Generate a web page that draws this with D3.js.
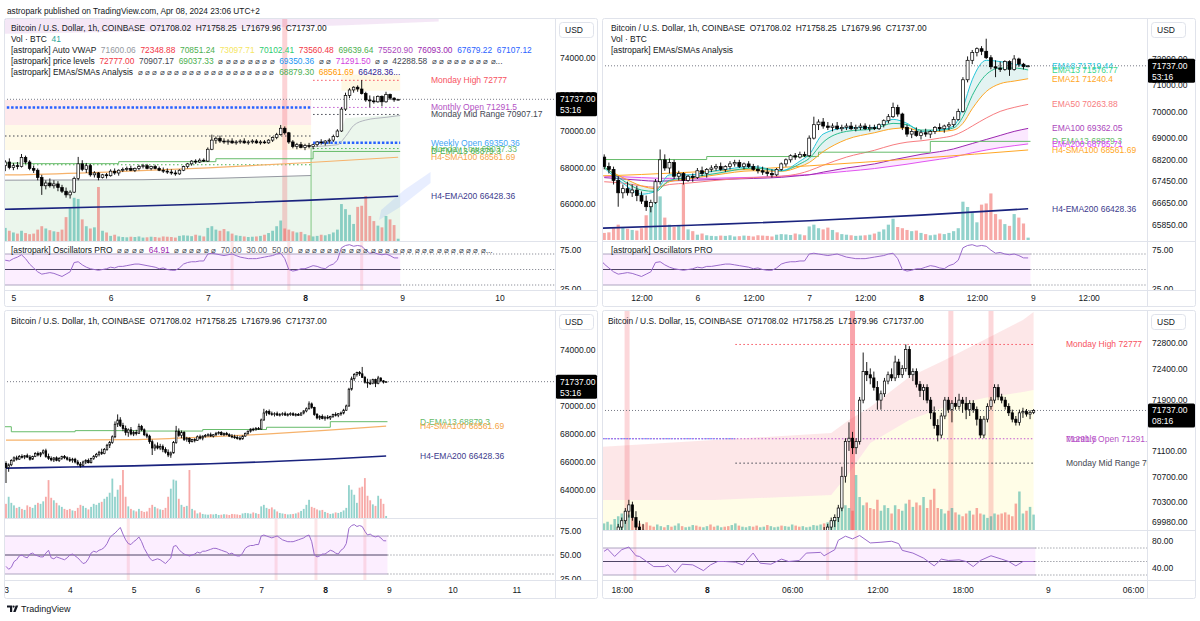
<!DOCTYPE html>
<html>
<head>
<meta charset="utf-8">
<script src="https://cdn.jsdelivr.net/npm/d3@7/dist/d3.min.js"></script>
<style>
html,body{margin:0;padding:0;background:#ffffff;overflow:hidden;}
svg{display:block;font-family:"Liberation Sans",Arial,Helvetica,sans-serif;}
text{white-space:pre;}
</style>
</head>
<body>
<svg id="chart" width="1200" height="621" xml:space="preserve"></svg>
<script>
// ================= DATA =================
// hourly BTCUSD bars, idx 0 = Apr 3 00:00 ... idx 143 = Apr 8 23:00  [open, high, low, close]
const hourlyOHLC = [
[65900,66050,64500,65600],[65600,65900,65300,65800],[65800,66200,65700,66100],[66100,66400,66000,66300],
[66300,66450,66100,66200],[66200,66500,66150,66400],[66400,66550,66250,66350],[66350,66500,66200,66450],
[66450,66600,66300,66350],[66350,66500,66100,66200],[66200,66450,66150,66400],[66400,66700,66350,66600],
[66600,66750,66400,66500],[66500,66700,66350,66650],[66650,66900,66550,66800],[66800,66950,66300,66400],
[66400,66600,66150,66250],[66250,66400,66050,66150],[66150,66350,66000,66300],[66300,66400,66050,66100],
[66100,66350,66000,66250],[66250,66450,66150,66400],[66400,66500,66200,66300],[66300,66400,66100,66200],
[66200,66350,66000,66100],[66100,66300,65950,66200],[66200,66300,65900,66000],[66000,66150,65750,65850],
[65850,66000,65600,65750],[65750,66100,65700,66000],[66000,66200,65850,66100],[66100,66250,65900,65950],
[65950,66300,65900,66250],[66250,66500,66150,66400],[66400,66650,66300,66550],[66550,66800,66400,66700],
[66700,66950,66500,66600],[66600,67000,66550,66900],[66900,67300,66800,67200],[67200,67500,67000,67400],
[67400,67900,67300,67800],[67800,68900,67700,68700],[68700,69400,68500,69000],[69000,69200,68500,68600],
[68600,68800,68200,68400],[68400,68600,67900,68100],[68100,68400,67800,68300],[68300,68500,67900,68000],
[68000,68250,67850,68100],[68100,68300,67900,68050],[68050,68740,68000,68550],[68550,68650,68200,68300],
[68300,68400,67850,67950],[67950,68100,67700,67850],[67850,67950,67300,67450],[67450,67600,66500,67000],
[67000,67300,66800,67150],[67150,67400,66900,67000],[67000,67300,66850,67100],[67100,67250,66700,66900],
[66900,67050,66600,66700],[66700,66900,66350,66500],[66500,66750,66300,66650],[66650,67500,66600,67400],
[67400,68580,67300,68200],[68200,68400,67800,67900],[67900,68250,67700,68100],[68100,68200,67500,67600],
[67600,67800,67450,67700],[67700,67750,67300,67450],[67450,67650,67400,67600],[67600,67700,67400,67550],
[67550,67900,67500,67800],[67800,67950,67600,67700],[67700,67900,67550,67850],[67850,68000,67750,67900],
[67900,68050,67800,67950],[67950,68100,67800,67850],[67850,68000,67750,67950],[67950,68150,67850,68050],
[68050,68200,67950,68100],[68100,68200,67900,67950],[67950,68100,67850,68050],[68050,68150,67900,67950],
[67950,68050,67800,67850],[67850,68000,67700,67800],[67800,67950,67650,67750],[67750,67900,67600,67700],
[67700,67850,67550,67650],[67650,67900,67600,67850],[67850,68100,67800,68050],[68050,68250,67950,68200],
[68200,68400,68100,68350],[68350,68450,68200,68300],[68300,68500,68250,68400],[68400,68500,68300,68350],
[68350,69100,68300,69000],[69000,69800,68950,69500],[69500,69700,69300,69600],[69600,69750,69350,69450],
[69450,69600,69300,69400],[69400,69550,69250,69450],[69450,69600,69300,69350],[69350,69500,69250,69400],
[69400,69550,69300,69450],[69450,69600,69300,69350],[69350,69500,69250,69400],[69400,69550,69300,69450],
[69450,69550,69300,69350],[69350,69500,69250,69400],[69400,69500,69300,69350],[69350,69550,69300,69500],
[69500,69700,69400,69650],[69650,69900,69550,69800],[69800,70330,69750,70150],[70150,70250,69800,69900],
[69900,69950,69300,69400],[69400,69500,69050,69150],[69150,69350,69000,69250],[69250,69400,69050,69100],
[69100,69300,68950,69200],[69200,69350,69050,69150],[69150,69300,69000,69250],[69250,69450,69150,69400],
[69400,69550,69250,69350],[69350,69500,69200,69450],[69450,69600,69300,69500],[69500,69800,69400,69700],
[69700,70100,69650,70000],[70000,71300,69950,71200],[71200,72100,71100,71950],[71950,72350,71800,72250],
[72250,72450,72100,72400],[72400,72500,72150,72300],[72300,72790,72000,72050],[72050,72150,71600,71700],
[71700,71950,71300,71650],[71650,71900,71500,71600],[71600,71950,71550,71900],[71900,71950,71350,71600],
[71600,72150,71550,72000],[72000,72050,71700,71800],[71800,71850,71600,71708],[71708.02,71758.25,71679.96,71737]
];
const hourlyVolume = [
280,420,300,250,200,220,180,160,250,220,200,260,300,280,330,420,750,400,350,300,250,220,180,160,
180,150,140,200,260,240,200,170,220,280,260,300,320,380,420,500,780,420,560,650,950,420,230,180,
150,130,180,140,120,130,200,260,220,190,170,160,200,420,580,760,740,380,260,220,240,950,180,150,
90,110,80,70,65,75,70,80,60,65,75,70,60,80,75,70,60,90,100,95,85,110,95,80,
230,260,200,180,210,170,130,100,90,80,70,75,80,90,110,140,180,260,360,220,200,170,150,160,
120,100,80,90,110,100,120,150,200,650,560,460,300,600,620,790,440,350,270,240,440,380,280,40
];
const hourlyRSI = [
38,35,37,43,45,49,50,48,47,51,52,50,49,48,48,52,55,47,46,48,47,46,45,47,
50,51,49,47,44,41,42,46,52,54,53,55,56,58,62,68,71,73,76,79,72,66,62,61,
64,66,69,64,57,52,47,44,45,46,45,43,41,44,47,59,60,56,53,51,50,49,50,51,
53,52,54,54,55,56,57,57,56,55,54,53,51,52,50,49,49,52,57,59,60,60,61,61,
70,71,70,69,68,69,70,68,66,65,64,64,64,65,66,67,68,70,71,64,50,48,49,51,
51,53,55,54,52,51,55,57,62,78,81,82,80,81,80,75,71,72,70,69,70,68,65,64.91
];
// indicator lines [hour idx, price]
const h4Ema200 = [[0,65560],[24,65640],[48,65720],[72,65850],[96,66000],[120,66200],[143,66428.36]];
const h4Sma100 = [[0,67560],[24,67570],[48,67600],[72,67760],[96,67980],[120,68260],[143,68561.69]];
const dEma13 = [[-24,68520],[2,68160],[26,68240],[50,68210],[74,68320],[98,68480],[122,68879.3],[143.5,68879.3]];
const emaIdx = [52,56,60,63,66,70,76,84,90,94,96,99,104,110,114,117,120,124,127,129,131,134,137,140,143];
const ema8   = [67900,67350,66950,67050,67650,67650,67800,67950,67800,68150,68400,69150,69380,69400,69700,69550,69250,69300,69450,70150,71200,71950,71900,71800,71719.44];
const ema13  = [67950,67450,67100,67050,67450,67550,67700,67900,67800,68050,68250,68850,69250,69350,69550,69500,69300,69300,69380,69800,70600,71400,71650,71650,71576.77];
const ema21  = [67900,67550,67250,67150,67400,67500,67650,67800,67780,67950,68100,68500,68950,69200,69350,69380,69250,69250,69300,69550,70100,70750,71050,71150,71240.4];
const ema50  = [67400,67350,67250,67200,67300,67350,67450,67550,67600,67700,67800,68000,68300,68550,68750,68850,68900,69000,69100,69250,69450,69750,70000,70150,70263.88];
const ema100 = [67550,67500,67450,67420,67430,67450,67480,67520,67560,67620,67650,67750,67900,68050,68200,68300,68400,68500,68600,68700,68800,68950,69100,69250,69362.05];
const ema200 = [67600,67580,67550,67530,67520,67520,67530,67560,67600,67640,67660,67700,67780,67880,67970,68040,68120,68220,68300,68380,68460,68560,68650,68720,68785.71];
// top-left VWAP / level study values
const tlPrevWeekSpan = [46,121.5];
const tlCurWeekSpan = [122,143.5];
const tlPrevBands = [71700,70330,68960];
const tlPrevVwap = [[40,67300],[80,67330],[100,67420],[121.5,67560]];
const tlNewVwap = [[122,69150],[128,69250],[130,69700],[132,70300],[135,70600],[140,70750],[143.5,70850]];
const tlNewMintTop = [[121.5,69100],[128,69500],[130,70700],[143.5,70900]];
const tlTopYellow = [[129,73100],[143.5,73100],[129,72200]];
const tlLavenderEdge = [[40,75300],[90,75500],[130,75800],[153,76000]];
const tlSwooshLower = [[138.3,65123],[143.5,65836],[151,67150]];
const tlSwooshUpper = [[138.8,65671],[144.5,66767],[151,67753]];
const tlPrevWeekLevels = [71291.5,69726,68150];
const tlCurWeekLevels = [72777,71291.5,70907.17,69350.36,69037.33];
const tlHighlightIdx = [115];
const tlOscPinkIdx = [102,116,134];
const blOscPinkIdx = [46,101.6,116.6,135];
const tlLabelNames = ["Monday High 72777","Monthly Open 71291.5","Monday Mid Range 70907.17","Weekly Open 69350.36","Monday Low 69037.33","D-EMA13 68879.3","H4-SMA100 68561.69","H4-EMA200 66428.36"];
const tlLabelValues = [72777,71291.5,70907.17,69350.36,69037.33,68879.3,68561.69,66428.36];
const trLabelNames = ["EMA8 71719.44","EMA13 71576.77","EMA21 71240.4","EMA50 70263.88","EMA100 69362.05","D-EMA13 68879.3","EMA200 68785.71","H4-SMA100 68561.69","H4-EMA200 66428.36"];
const trLabelValues = [71719.44,71576.77,71240.4,70263.88,69362.05,68879.3,68785.71,68561.69,66428.36];
const blLabelNames = ["D-EMA13 68879.3","H4-SMA100 68561.69","H4-EMA200 66428.36"];
const blLabelValues = [68879.3,68561.69,66428.36];
// 15-minute bars, k 0 = Apr 7 16:45 ... k 121 = Apr 8 23:00
const brOHLC = [
[69600,69700,69550,69650],[69650,69750,69600,69700],[69700,69800,69650,69750],[69750,69850,69700,69800],
[69800,69950,69750,69900],[69900,70050,69850,70000],[70000,70200,69950,70150],[70150,70330,70050,70250],
[70250,70300,70000,70050],[70050,70150,69850,69900],[69900,70000,69800,69850],[69850,69950,69700,69750],
[69750,69800,69500,69550],[69550,69600,69350,69450],[69450,69500,69300,69350],[69350,69450,69250,69400],
[69400,69450,69300,69400],[69400,69450,69050,69150],[69150,69250,69050,69200],[69200,69300,69100,69150],
[69150,69250,69100,69150],[69150,69350,69100,69300],[69300,69350,69150,69200],[69200,69300,69100,69250],
[69250,69300,69150,69250],[69250,69400,69200,69300],[69300,69350,69100,69150],[69150,69200,69050,69100],
[69100,69200,69050,69100],[69100,69300,69000,69250],[69250,69300,69100,69150],[69150,69250,68950,69050],
[69050,69250,69000,69200],[69200,69350,69100,69300],[69300,69350,69150,69200],[69200,69250,69050,69100],
[69100,69200,69050,69150],[69150,69300,69100,69250],[69250,69300,69150,69200],[69200,69300,69150,69250],
[69250,69300,69200,69250],[69250,69450,69200,69400],[69400,69450,69300,69350],[69350,69400,69250,69300],
[69300,69450,69250,69400],[69400,69550,69350,69450],[69450,69500,69300,69350],[69350,69400,69250,69350],
[69350,69400,69300,69350],[69350,69500,69300,69450],[69450,69500,69350,69400],[69400,69450,69300,69400],
[69400,69500,69350,69450],[69450,69600,69400,69550],[69550,69600,69450,69500],[69500,69550,69400,69450],
[69450,69550,69400,69500],[69500,69650,69450,69600],[69600,69700,69550,69650],[69650,69800,69600,69700],
[69700,69750,69600,69700],[69700,69850,69650,69800],[69800,69900,69700,69750],[69750,69950,69700,69900],
[69900,70050,69850,70000],[70000,70100,69900,70050],[70050,70250,69980,70200],[70200,70850,70150,70700],
[70700,71300,70600,71250],[71250,71550,71100,71300],[71300,71400,71050,71150],[71150,71300,71050,71250],
[71250,71950,71200,71900],[71900,72650,71850,72350],[72350,72500,72200,72300],[72300,72400,72150,72250],
[72250,72350,72050,72100],[72100,72200,71750,71900],[71900,72050,71750,72000],[72000,72250,71950,72200],
[72200,72350,72150,72300],[72300,72400,72200,72250],[72250,72600,72200,72500],[72500,72550,72250,72300],
[72300,72450,72250,72400],[72400,72777,72350,72700],[72700,72750,72250,72300],[72300,72400,72200,72350],
[72350,72400,72100,72150],[72150,72200,71950,72050],[72050,72150,71900,72100],[72100,72150,71850,71900],
[71900,71950,71600,71700],[71700,71800,71450,71500],[71500,71600,71250,71350],[71350,71700,71300,71650],
[71650,71950,71600,71900],[71900,71950,71700,71750],[71750,71900,71550,71850],[71850,71950,71750,71800],
[71800,72000,71750,71900],[71900,71950,71700,71850],[71850,71950,71600,71750],[71750,71900,71650,71850],
[71850,71900,71700,71750],[71750,71800,71500,71600],[71600,71650,71300,71350],[71350,71650,71300,71600],
[71600,71850,71550,71800],[71800,71950,71750,71900],[71900,72150,71850,72100],[72100,72150,71900,71950],
[71950,72000,71850,71900],[71900,71950,71750,71800],[71800,71850,71650,71700],[71700,71750,71550,71600],
[71600,71650,71500,71550],[71550,71750,71500,71700],[71700,71780,71620,71720],[71720,71760,71640,71680],
[71680,71740,71600,71708],[71708.02,71758.25,71679.96,71737]
];
const brVolume = [
12,15,10,20,25,30,35,28,22,18,12,10,14,
8,6,10,7,5,9,6,8,12,7,5,6,9,8,6,5,7,10,6,8,5,6,7,9,12,8,6,5,7,6,8,5,6,9,7,5,6,8,7,6,10,8,6,7,5,6,9,8,10,12,14,18,
20,30,48,45,40,35,100,60,45,50,40,38,55,35,45,40,30,45,38,35,48,55,42,50,45,60,40,55,75,40,38,30,35,40,32,28,25,30,35,28,40,30,28,22,25,30,28,30,32,28,25,48,70,30,35,42,28
];
const brRsiIdx = [0,1,3,5,7,9,10,12,14,17,18,20,22,25,28,30,32,34,37,39,42,44,47,50,52,55,57,61,62,65,66,68,70,72,75,78,81,83,84,87,90,93,95,97,100,102,104,106,109,112,114,116,118,121];
const brRsiVal = [65,68.5,57.5,67.5,71.5,58.5,57.5,50,42.5,42.5,45,33.5,46,45,36.5,45,50,50,49,45,62.5,47.5,46,53.5,50,51.5,62.5,63.5,58.5,67.5,81.5,87.5,83.5,88.5,77.5,78.5,80,76.5,66.5,62.5,55,43.5,53.5,51.5,52.5,50,42.5,51.5,58.5,53.5,50,43.5,50,50];
const brBandTop = [[-2,71160],[31,71272],[64,71382],[69,71587],[75,71792],[86,72264],[96,72532],[107,72847],[118,73162],[121,73288]];
const brBandMid = [[-2,70327],[31,70327],[64,70406],[69,70752],[75,71225],[86,71587],[96,71792],[107,71934],[118,72028],[121,72060]];
const brBandFloor = 69000;
const brMondayStartK = 37;
const brLevels = [72777,71291.5,70907.17];
const brHighlightK = [6.5,70,97.7,109];
const brOscPinkK = [8.7,63,71];
const brLabelNames = ["Monday High 72777","71291.5","Monthly Open 71291.5","Monday Mid Range 70907.17"];
const brLabelValues = [72777,71291.5,71291.5,70907.17];
// axis ticks
const tlPriceTicks = [74000,72000,70000,68000,66000];
const trPriceTicks = [72000,71000,70000,69000,68200,67450,66650,65850];
const blPriceTicks = [74000,72000,70000,68000,66000,64000];
const brPriceTicks = [72800,72400,71900,71100,70700,70300,69980];
const tlOscTicks = [75,25], blOscTicks = [75,50,25], brOscTicks = [80,40];
const tlTimeTicks = [48,72,96,120,144,168], tlTimeLabels = ["5","6","7","8","9","10"];
const trTimeTicks = [60,72,84,96,108,120,132,144,156], trTimeLabels = ["12:00","6","12:00","7","12:00","8","12:00","9","12:00"];
const blTimeTicks = [0,24,48,72,96,120,144,168,192], blTimeLabels = ["3","4","5","6","7","8","9","10","11"];
const brTimeTicks = [5,29,53,77,101,125,149], brTimeLabels = ["18:00","8","06:00","12:00","18:00","9","06:00"];
const lastPrice = 71737.00;

// ================= DRAWING =================
const TXT = "#131722";
const LEG = 8.4;
const svg = d3.select("#chart");
const defs = svg.append("defs");
let clipCount = 0;
function clipG(x, y, w, h) {
  const id = "cp" + (clipCount++);
  defs.append("clipPath").attr("id", id).append("rect").attr("x", x).attr("y", y).attr("width", w).attr("height", h);
  return svg.append("g").attr("clip-path", "url(#" + id + ")");
}
function linePath(g, pts, x, y, color, w, dash, curve) {
  const gen = d3.line().x(d => x(d[0])).y(d => y(d[1])).curve(curve || d3.curveLinear);
  return g.append("path").attr("d", gen(pts)).attr("fill", "none").attr("stroke", color)
    .attr("stroke-width", w).attr("stroke-dasharray", dash || null);
}
function polyFill(g, topPts, botPts, x, y, color) {
  const gen = d3.line().x(d => x(d[0])).y(d => y(d[1]));
  g.append("path").attr("d", gen(topPts.concat(botPts.slice().reverse())) + "Z").attr("fill", color);
}
function areaBetween(g, xs, top, bot, x, y, color) {
  const a = d3.area().x((d, i) => x(xs[i])).y0((d, i) => y(bot[i])).y1((d, i) => y(top[i])).curve(d3.curveMonotoneX);
  g.append("path").attr("d", a(xs)).attr("fill", color);
}
function candles(g, rows, x, y, bw) {
  const items = rows.map((r, i) => ({i, o: r[0], h: r[1], l: r[2], c: r[3]}));
  const cg = g.append("g");
  cg.selectAll("line").data(items).join("line")
    .attr("x1", d => x(d.i)).attr("x2", d => x(d.i))
    .attr("y1", d => y(d.h)).attr("y2", d => y(d.l))
    .attr("stroke", "#000").attr("stroke-width", 0.9);
  cg.selectAll("rect").data(items).join("rect")
    .attr("x", d => x(d.i) - bw / 2).attr("width", bw)
    .attr("y", d => y(Math.max(d.o, d.c)))
    .attr("height", d => Math.max(0.9, y(Math.min(d.o, d.c)) - y(Math.max(d.o, d.c))))
    .attr("fill", d => d.c >= d.o ? "#ffffff" : "#000000")
    .attr("stroke", "#000").attr("stroke-width", 0.7);
}
function volumes(g, rows, vols, x, yv, bw) {
  g.append("g").selectAll("rect").data(vols.map((v, i) => ({i, v, up: rows[i][3] >= rows[i][0]}))).join("rect")
    .attr("x", d => x(d.i) - bw / 2).attr("width", bw)
    .attr("y", d => yv(d.v)).attr("height", d => yv(0) - yv(d.v))
    .attr("fill", d => d.up ? "rgba(38,166,154,0.5)" : "rgba(239,83,80,0.5)");
}
function frame(P) {
  const g = svg.append("g");
  g.append("rect").attr("x", P.left + 0.5).attr("y", P.top + 0.5).attr("width", P.right - P.left - 1)
    .attr("height", P.bottom - P.top - 1).attr("fill", "#fff").attr("stroke", "#e0e3eb").attr("rx", 2);
  g.append("line").attr("x1", P.axisX + 0.5).attr("x2", P.axisX + 0.5).attr("y1", P.top).attr("y2", P.bottom).attr("stroke", "#e0e3eb");
  g.append("line").attr("x1", P.left).attr("x2", P.right).attr("y1", P.mainBottom + 0.5).attr("y2", P.mainBottom + 0.5).attr("stroke", "#e0e3eb");
  g.append("line").attr("x1", P.left).attr("x2", P.right).attr("y1", P.oscBottom + 0.5).attr("y2", P.oscBottom + 0.5).attr("stroke", "#e0e3eb");
}
function mainClip(P) { return clipG(P.left + 1, P.top + 1, P.axisX - P.left - 1, P.mainBottom - P.top - 1); }
function priceLine(g, P, yPx) {
  g.append("line").attr("x1", P.left).attr("x2", P.axisX).attr("y1", yPx).attr("y2", yPx)
    .attr("stroke", "#787b86").attr("stroke-width", 1).attr("stroke-dasharray", "1,2");
}
function rightLabels(g, names, values, colors, xPx, y) {
  names.forEach((n, i) => g.append("text").attr("x", xPx).attr("y", y(values[i])).attr("dy", "0.35em")
    .attr("font-size", 8.5).attr("fill", colors[i]).text(n));
}
function legend(g, xPx, yPx, parts, size) {
  const t = g.append("text").attr("x", xPx).attr("y", yPx).attr("dy", "0.35em").attr("font-size", size || LEG).attr("fill", TXT);
  parts.forEach(p => t.append("tspan").attr("fill", p[1] || TXT).text(p[0]));
}
function priceAxis(P, y, ticks, y0, y1) {
  const g = clipG(P.axisX + 1, y0, P.right - P.axisX - 2, y1 - y0);
  const ax = g.append("g").attr("transform", "translate(" + P.axisX + ",0)")
    .call(d3.axisRight(y).tickValues(ticks).tickFormat(d3.format(".2f")).tickSize(0).tickPadding(5));
  ax.select(".domain").remove();
  ax.attr("font-family", null).attr("font-size", 8.5);
  ax.selectAll("text").attr("fill", TXT);
}
function priceBox(P, yPx, timer) {
  const g = svg.append("g");
  g.append("rect").attr("x", P.axisX + 1).attr("y", yPx - 7).attr("width", P.right - P.axisX - 2).attr("height", 24).attr("fill", "#000").attr("rx", 1.5);
  g.append("text").attr("x", P.axisX + 5).attr("y", yPx).attr("dy", "0.35em").attr("fill", "#fff").attr("font-size", 8.5).text(d3.format(".2f")(lastPrice));
  g.append("text").attr("x", P.axisX + 5).attr("y", yPx + 11).attr("dy", "0.35em").attr("fill", "#fff").attr("font-size", 8.5).text(timer);
}
function usdBox(P) {
  svg.append("rect").attr("x", P.axisX + 4.5).attr("y", P.top + 4.5).attr("width", 34).attr("height", 15).attr("rx", 3).attr("fill", "#fff").attr("stroke", "#e0e3eb");
  svg.append("text").attr("x", P.axisX + 10).attr("y", P.top + 12).attr("dy", "0.35em").attr("font-size", 8.5).attr("fill", TXT).text("USD");
}
function timeAxis(P, x, ticks, labels, yText) {
  const g = clipG(P.left + 1, P.oscBottom + 1, P.axisX - P.left - 1, P.bottom - P.oscBottom - 2);
  const ax = g.append("g").attr("transform", "translate(0," + yText + ")")
    .call(d3.axisBottom(x).tickValues(ticks).tickFormat((d, i) => labels[i]).tickSize(0).tickPadding(0));
  ax.select(".domain").remove();
  ax.attr("font-family", null).attr("font-size", 8.5);
  ax.selectAll("text").attr("fill", TXT).attr("dy", "0.35em").attr("font-weight", (d, i) => labels[i] === "8" ? "bold" : null);
}
function oscPane(P, x, o, pts, lastX, pinkXs) {
  const g = clipG(P.left + 1, P.mainBottom + 1, P.axisX - P.left - 1, P.oscBottom - P.mainBottom - 1);
  const xl = P.left + 1;
  g.append("rect").attr("x", xl).attr("y", o(70)).attr("width", lastX - xl).attr("height", o(30) - o(70)).attr("fill", "rgba(224,64,251,0.09)");
  pinkXs.forEach(px => g.append("rect").attr("x", px - 1.5).attr("y", P.mainBottom).attr("width", 3)
    .attr("height", P.oscBottom - P.mainBottom).attr("fill", "rgba(242,54,69,0.13)"));
  [70, 30].forEach(v => {
    g.append("line").attr("x1", xl).attr("x2", lastX).attr("y1", o(v)).attr("y2", o(v)).attr("stroke", "#9a8fb0").attr("stroke-width", 0.8);
    g.append("line").attr("x1", lastX).attr("x2", P.axisX).attr("y1", o(v)).attr("y2", o(v)).attr("stroke", "#787b86").attr("stroke-dasharray", "1,2");
  });
  g.append("line").attr("x1", xl).attr("x2", lastX).attr("y1", o(50)).attr("y2", o(50)).attr("stroke", "#4f4566").attr("stroke-width", 1);
  g.append("line").attr("x1", lastX).attr("x2", P.axisX).attr("y1", o(50)).attr("y2", o(50)).attr("stroke", "#787b86").attr("stroke-dasharray", "1,2");
  linePath(g, pts, x, o, "#9b6bcc", 1);
  return g;
}
const fmt2 = d3.format(".2f");
const rep = n => Array(n).fill("\u2300").join(" ");
const hourlyRsiPts = hourlyRSI.map((v, i) => [i, v]);
const brRsiPts = brRsiIdx.map((k, i) => [k, brRsiVal[i]]);

// header
svg.append("text").attr("x", 7).attr("y", 11).attr("dy", "0.35em").attr("font-size", 8.3).attr("fill", TXT)
  .text("astropark published on TradingView.com, Apr 08, 2024 23:06 UTC+2");

const btcTitle = tf => "Bitcoin / U.S. Dollar, " + tf + ", COINBASE  O71708.02  H71758.25  L71679.96  C" + fmt2(lastPrice);

// ---------------- TOP LEFT ----------------
const TL = {left: 4, right: 598, top: 18, bottom: 307, axisX: 555, mainBottom: 241, oscBottom: 290};
const xTL = d3.scaleLinear().domain([120, 144]).range([305, 402.2]);
const yTL = d3.scaleLinear().domain([66000, 74000]).range([204, 58]);
const oTL = d3.scaleLinear().domain([30, 70]).range([285, 254]);
const vTL = d3.scaleLinear().domain([0, 950]).range([241, 187]);
frame(TL);
{
  const g = mainClip(TL);
  polyFill(g, [[40, 77000], [153, 77000]], tlLavenderEdge, xTL, yTL, "rgba(156,39,176,0.11)");
  const [ps, pe] = tlPrevWeekSpan, [cs, ce] = tlCurWeekSpan;
  polyFill(g, [[ps - 6, tlPrevBands[0]], [pe, tlPrevBands[0]]], [[ps - 6, tlPrevBands[1]], [pe, tlPrevBands[1]]], xTL, yTL, "rgba(242,54,69,0.11)");
  polyFill(g, [[ps - 6, tlPrevBands[1]], [pe, tlPrevBands[1]]], [[ps - 6, tlPrevBands[2]], [pe, tlPrevBands[2]]], xTL, yTL, "rgba(255,213,79,0.13)");
  polyFill(g, tlPrevVwap, [[40, 60000], [121.5, 60000]], xTL, yTL, "rgba(76,175,80,0.11)");
  polyFill(g, tlNewMintTop, [[121.5, 60000], [143.5, 60000]], xTL, yTL, "rgba(76,175,80,0.11)");
  polyFill(g, tlTopYellow.slice(0, 2), [[129, tlTopYellow[2][1]], [143.5, tlTopYellow[2][1]]], xTL, yTL, "rgba(255,213,79,0.16)");
  polyFill(g, tlSwooshUpper, tlSwooshLower, xTL, yTL, "rgba(41,98,255,0.11)");
  tlHighlightIdx.forEach(i => g.append("rect").attr("x", xTL(i) - 2.5).attr("y", TL.top).attr("width", 5).attr("height", TL.mainBottom - TL.top).attr("fill", "rgba(242,54,69,0.22)"));
  volumes(g, hourlyOHLC, hourlyVolume, xTL, vTL, 2.8);
  // previous week levels
  linePath(g, [[ps - 6, tlPrevWeekLevels[0]], [pe, tlPrevWeekLevels[0]]], xTL, yTL, "#2962ff", 2.5, "2.5,1.8");
  linePath(g, [[ps - 6, tlPrevWeekLevels[1]], [pe, tlPrevWeekLevels[1]]], xTL, yTL, "#434651", 1, "1.5,2.5");
  linePath(g, [[ps - 6, tlPrevWeekLevels[2]], [pe, tlPrevWeekLevels[2]]], xTL, yTL, "#4caf50", 1, "1.5,2.5");
  // current week levels
  const curStyles = [["#f7525f", 1, "1.5,2.5"], ["#c158d0", 1, "1.5,2.5"], ["#434651", 1, "1.5,2.5"], ["#2962ff", 2.5, "2.5,1.8"], ["#4caf50", 1, "1.5,2.5"]];
  tlCurWeekLevels.forEach((v, i) => linePath(g, [[cs, v], [ce, v]], xTL, yTL, curStyles[i][0], curStyles[i][1], curStyles[i][2]));
  linePath(g, tlPrevVwap, xTL, yTL, "#9598a1", 1);
  linePath(g, [[121.5, 69100], [121.5, 60000]], xTL, yTL, "#81c784", 1);
  linePath(g, tlNewVwap, xTL, yTL, "#b2b5be", 1, null, d3.curveMonotoneX);
  linePath(g, h4Sma100, xTL, yTL, "#f6b26b", 1.2, null, d3.curveMonotoneX);
  linePath(g, dEma13, xTL, yTL, "#66bb6a", 1, null, d3.curveStepAfter);
  linePath(g, h4Ema200, xTL, yTL, "#1a237e", 1.6, null, d3.curveMonotoneX);
  priceLine(g, TL, yTL(lastPrice));
  candles(g, hourlyOHLC, xTL, yTL, 2.6);
  rightLabels(g, tlLabelNames, tlLabelValues, ["#f7525f", "#b452c4", "#434651", "#42a5f5", "#66bb6a", "#4caf50", "#f5a547", "#3c3a8c"], 431, yTL);
  const lg = clipG(TL.left + 1, TL.top + 1, TL.axisX - TL.left - 4, 70);
  legend(lg, 11, 28, [[btcTitle("1h")]]);
  legend(lg, 11, 39, [["Vol \u00b7 BTC  "], ["41", "#26a69a"]]);
  legend(lg, 11, 50, [["[astropark] Auto VWAP  "], ["71600.06  ", "#9598a1"], ["72348.88  ", "#f23645"], ["70851.24  ", "#4caf50"], ["73097.71  ", "#f5e663"], ["70102.41  ", "#2ecc71"], ["73560.48  ", "#f23645"], ["69639.64  ", "#4caf50"], ["75520.90  ", "#ab47bc"], ["76093.00  ", "#9c27b0"], ["67679.22  ", "#2962ff"], ["67107.12", "#2962ff"]]);
  legend(lg, 11, 61, [["[astropark] price levels  "], ["72777.00  ", "#f23645"], ["70907.17  ", "#434651"], ["69037.33  ", "#4caf50"], [rep(8) + "  ", "#434651"], ["69350.36  ", "#2196f3"], [rep(2) + "  ", "#434651"], ["71291.50  ", "#d23fe0"], [rep(2) + "  ", "#434651"], ["42288.58  ", "#434651"], [rep(9) + "...", "#434651"]]);
  legend(lg, 11, 72, [["[astropark] EMAs/SMAs Analysis  "], [rep(19) + "  ", "#434651"], ["68879.30  ", "#4caf50"], ["68561.69  ", "#ff9800"], ["66428.36...", "#311b92"]]);
  const og = oscPane(TL, xTL, oTL, hourlyRsiPts, xTL(143.5), tlOscPinkIdx.map(xTL));
  legend(og, 11, 250, [["[astropark] Oscillators PRO  "], [rep(4) + "  ", "#434651"], ["64.91  ", "#9c27b0"], [rep(6) + "  ", "#434651"], ["70.00  30.00  50.00  ", "#5d606b"], [rep(26) + "...", "#434651"]]);
  priceAxis(TL, yTL, tlPriceTicks, TL.top + 1, TL.mainBottom);
  priceAxis(TL, oTL, tlOscTicks, TL.mainBottom + 1, TL.oscBottom);
  priceBox(TL, yTL(lastPrice), "53:16");
  usdBox(TL);
  timeAxis(TL, xTL, tlTimeTicks, tlTimeLabels, 298.5);
}

// ---------------- TOP RIGHT ----------------
const TR = {left: 602, right: 1196, top: 18, bottom: 307, axisX: 1147, mainBottom: 241, oscBottom: 290};
const xTR = d3.scaleLinear().domain([120, 144]).range([921, 1032.8]);
const yTR = d3.scaleLog().domain([65850, 72000]).range([225, 59]);
const oTR = d3.scaleLinear().domain([30, 70]).range([285, 254]);
const vTR = d3.scaleLinear().domain([0, 950]).range([240, 184]);
frame(TR);
{
  const g = mainClip(TR);
  areaBetween(g, emaIdx, ema8, ema21, xTR, yTR, "rgba(38,166,154,0.13)");
  areaBetween(g, emaIdx, ema100, ema200, xTR, yTR, "rgba(224,64,251,0.12)");
  volumes(g, hourlyOHLC, hourlyVolume, xTR, vTR, 3.2);
  const em = (arr) => emaIdx.map((k, i) => [k, arr[i]]);
  linePath(g, em(ema200), xTR, yTR, "#e254f0", 1, null, d3.curveMonotoneX);
  linePath(g, em(ema100), xTR, yTR, "#9c27b0", 1, null, d3.curveMonotoneX);
  linePath(g, em(ema50), xTR, yTR, "#f77c80", 1, null, d3.curveMonotoneX);
  linePath(g, dEma13, xTR, yTR, "#66bb6a", 1, null, d3.curveStepAfter);
  linePath(g, h4Sma100, xTR, yTR, "#ffa726", 1, null, d3.curveMonotoneX);
  linePath(g, h4Ema200, xTR, yTR, "#1a237e", 1.6, null, d3.curveMonotoneX);
  linePath(g, em(ema21), xTR, yTR, "#ffa726", 1, null, d3.curveMonotoneX);
  linePath(g, em(ema13), xTR, yTR, "#2bbd8e", 1, null, d3.curveMonotoneX);
  linePath(g, em(ema8), xTR, yTR, "#26c6da", 1, null, d3.curveMonotoneX);
  priceLine(g, TR, yTR(lastPrice));
  candles(g, hourlyOHLC, xTR, yTR, 3.0);
  rightLabels(g, trLabelNames, trLabelValues, ["#26c6da", "#3dd68c", "#ffa726", "#f77c80", "#ab47bc", "#66bb6a", "#e040fb", "#ffa726", "#3c3a8c"], 1052, yTR);
  const lg = clipG(TR.left + 1, TR.top + 1, TR.axisX - TR.left - 4, 70);
  legend(lg, 611, 28, [[btcTitle("1h")]]);
  legend(lg, 611, 39, [["Vol \u00b7 BTC"]]);
  legend(lg, 611, 50, [["[astropark] EMAs/SMAs Analysis"]]);
  const og = oscPane(TR, xTR, oTR, hourlyRsiPts, xTR(143.5), []);
  legend(og, 611, 250, [["[astropark] Oscillators PRO"]]);
  priceAxis(TR, yTR, trPriceTicks, TR.top + 1, TR.mainBottom);
  priceAxis(TR, oTR, tlOscTicks, TR.mainBottom + 1, TR.oscBottom);
  priceBox(TR, yTR(lastPrice), "53:16");
  usdBox(TR);
  timeAxis(TR, xTR, trTimeTicks, trTimeLabels, 298.5);
}

// ---------------- BOTTOM LEFT ----------------
const BL = {left: 4, right: 598, top: 310, bottom: 599, axisX: 555, mainBottom: 518, oscBottom: 580};
const xBL = d3.scaleLinear().domain([120, 144]).range([325, 388.8]);
const yBL = d3.scaleLinear().domain([64000, 74000]).range([490, 350]);
const oBL = d3.scaleLinear().domain([30, 70]).range([574, 536]);
const vBL = d3.scaleLinear().domain([0, 950]).range([518, 470]);
frame(BL);
{
  const g = mainClip(BL);
  volumes(g, hourlyOHLC, hourlyVolume, xBL, vBL, 1.8);
  linePath(g, dEma13, xBL, yBL, "#66bb6a", 1, null, d3.curveStepAfter);
  linePath(g, h4Sma100, xBL, yBL, "#f6b26b", 1.2, null, d3.curveMonotoneX);
  linePath(g, h4Ema200, xBL, yBL, "#1a237e", 1.6, null, d3.curveMonotoneX);
  priceLine(g, BL, yBL(lastPrice));
  candles(g, hourlyOHLC, xBL, yBL, 1.6);
  rightLabels(g, blLabelNames, blLabelValues, ["#66bb6a", "#f5a547", "#3c3a8c"], 420, yBL);
  const lg = clipG(BL.left + 1, BL.top + 1, BL.axisX - BL.left - 4, 20);
  legend(lg, 11, 321, [[btcTitle("1h")]]);
  oscPane(BL, xBL, oBL, hourlyRsiPts, xBL(143.5), blOscPinkIdx.map(xBL));
  priceAxis(BL, yBL, blPriceTicks, BL.top + 1, BL.mainBottom);
  priceAxis(BL, oBL, blOscTicks, BL.mainBottom + 1, BL.oscBottom);
  priceBox(BL, yBL(lastPrice), "53:16");
  usdBox(BL);
  timeAxis(BL, xBL, blTimeTicks, blTimeLabels, 590);
}

// ---------------- BOTTOM RIGHT ----------------
const BRp = {left: 602, right: 1196, top: 310, bottom: 599, axisX: 1147, mainBottom: 530, oscBottom: 580};
const xBR = d3.scaleLinear().domain([0, 121]).range([604, 1033.6]);
const yBR = d3.scaleLinear().domain([69980, 72800]).range([522, 343]);
const oBR = d3.scaleLinear().domain([30, 70]).range([575, 548]);
const vBR = d3.scaleLinear().domain([0, 100]).range([530, 475]);
frame(BRp);
{
  const g = mainClip(BRp);
  const floor = brBandMid.map(d => [d[0], brBandFloor]);
  polyFill(g, brBandTop, brBandMid, xBR, yBR, "rgba(242,54,69,0.12)");
  polyFill(g, brBandMid, floor, xBR, yBR, "rgba(255,235,59,0.12)");
  brHighlightK.forEach((k, i) => g.append("rect").attr("x", xBR(k) - 2.5).attr("y", BRp.top).attr("width", 5)
    .attr("height", BRp.mainBottom - BRp.top).attr("fill", i === 1 ? "rgba(242,54,69,0.45)" : "rgba(242,54,69,0.2)"));
  volumes(g, brOHLC, brVolume, xBR, vBR, 2.5);
  linePath(g, [[brMondayStartK, brLevels[0]], [121, brLevels[0]]], xBR, yBR, "#f7525f", 1, "1.5,2.5");
  linePath(g, [[-3, brLevels[1]], [brMondayStartK, brLevels[1]]], xBR, yBR, "#2962ff", 1.2, "1.5,1.5");
  linePath(g, [[-3, brLevels[1]], [121, brLevels[1]]], xBR, yBR, "#c158d0", 1.2, "1.5,2");
  linePath(g, [[brMondayStartK, brLevels[2]], [121, brLevels[2]]], xBR, yBR, "#434651", 1, "1.5,2.5");
  priceLine(g, BRp, yBR(lastPrice));
  candles(g, brOHLC, xBR, yBR, 2.3);
  rightLabels(g, brLabelNames, brLabelValues, ["#f7525f", "#c158d0", "#b452c4", "#434651"], 1066, yBR);
  const lg = clipG(BRp.left + 1, BRp.top + 1, BRp.axisX - BRp.left - 4, 20);
  legend(lg, 608, 321, [[btcTitle("15")]]);
  oscPane(BRp, xBR, oBR, brRsiPts, xBR(121.5), brOscPinkK.map(xBR));
  priceAxis(BRp, yBR, brPriceTicks, BRp.top + 1, BRp.mainBottom);
  priceAxis(BRp, oBR, brOscTicks, BRp.mainBottom + 1, BRp.oscBottom);
  priceBox(BRp, yBR(lastPrice), "08:16");
  usdBox(BRp);
  timeAxis(BRp, xBR, brTimeTicks, brTimeLabels, 590);
}

// logo
svg.append("path").attr("d", "M7 605.5h5.2v6.5h-2.2v-4.4h-3z").attr("fill", TXT);
svg.append("circle").attr("cx", 13.6).attr("cy", 606.6).attr("r", 1.1).attr("fill", TXT);
svg.append("path").attr("d", "M15.6 605.5h2.6l-2.6 6.5h-2.4z").attr("fill", TXT);
svg.append("text").attr("x", 21).attr("y", 609).attr("dy", "0.35em").attr("font-size", 9).attr("fill", TXT).text("TradingView");
</script>
</body>
</html>
